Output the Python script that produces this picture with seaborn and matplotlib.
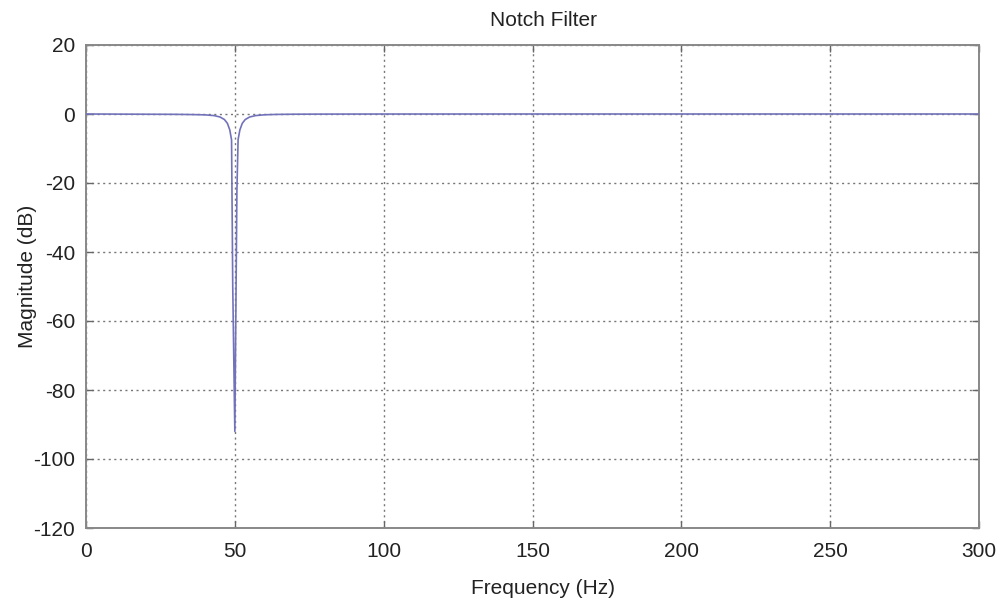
import matplotlib
matplotlib.use("Agg")
import matplotlib.pyplot as plt
import seaborn as sns
import pandas as pd

# Magnitude response of the 50 Hz notch filter (frequency in Hz, magnitude in dB)
freq_hz = [0, 30, 36, 40, 43, 45, 46.5, 47.5, 48.3, 48.9, 49.3, 50.0, 50.7,
           51.1, 51.7, 52.5, 53.5, 55, 57, 60, 64, 70, 80, 90, 100, 150, 200, 250, 300]
mag_db = [0, -0.1, -0.17, -0.25, -0.46, -0.86, -1.6, -2.7, -4.6, -7.5, -50, -92, -22,
          -7.4, -4.6, -2.7, -1.6, -0.86, -0.46, -0.23, -0.12, -0.06, -0.03, -0.02, -0.01,
          0, 0, 0, 0]

x_ticks = [0, 50, 100, 150, 200, 250, 300]
y_ticks = [20, 0, -20, -40, -60, -80, -100, -120]

sns.set_theme(style="white")
plt.rcParams["font.family"] = ["Liberation Sans", "DejaVu Sans"]

df = pd.DataFrame({"Frequency (Hz)": freq_hz, "Magnitude (dB)": mag_db})

fig = plt.figure(figsize=(10.07, 6.0), dpi=100)
ax = fig.add_axes([0.0854, 0.12, 0.8868, 0.805])

ax.grid(True, linestyle=(0, (1.5, 2.5)), color="#777777", linewidth=1.0)
ax.set_axisbelow(True)

sns.lineplot(data=df, x="Frequency (Hz)", y="Magnitude (dB)", ax=ax,
             estimator=None, sort=False, color="#7272bb", linewidth=1.2, zorder=3)

ax.set_xlim(0, 300)
ax.set_ylim(-120, 20)
ax.set_xticks(x_ticks)
ax.set_yticks(y_ticks)
ax.set_xticklabels([str(v) for v in x_ticks])
ax.set_yticklabels([str(v) for v in y_ticks])

ax.tick_params(axis="both", direction="in", length=5, width=1.0, color="#666666",
               labelsize=15, labelcolor="#222222", top=True, right=True,
               bottom=True, left=True)
ax.tick_params(axis="x", pad=10)
ax.tick_params(axis="y", pad=8)

for s in ax.spines.values():
    s.set_visible(True)
    s.set_color("#888888")
    s.set_linewidth(1.4)

ax.set_xlabel("Frequency (Hz)", fontsize=15, color="#222222", labelpad=6)
ax.set_ylabel("Magnitude (dB)", fontsize=15, color="#222222", labelpad=2)
ax.xaxis.set_label_coords(0.512, -0.105)
ax.yaxis.set_label_coords(-0.055, 0.52)
ax.set_title("Notch Filter", fontsize=15, color="#222222", pad=14, x=0.512)

fig.savefig("out.png", dpi=100, facecolor="white")
